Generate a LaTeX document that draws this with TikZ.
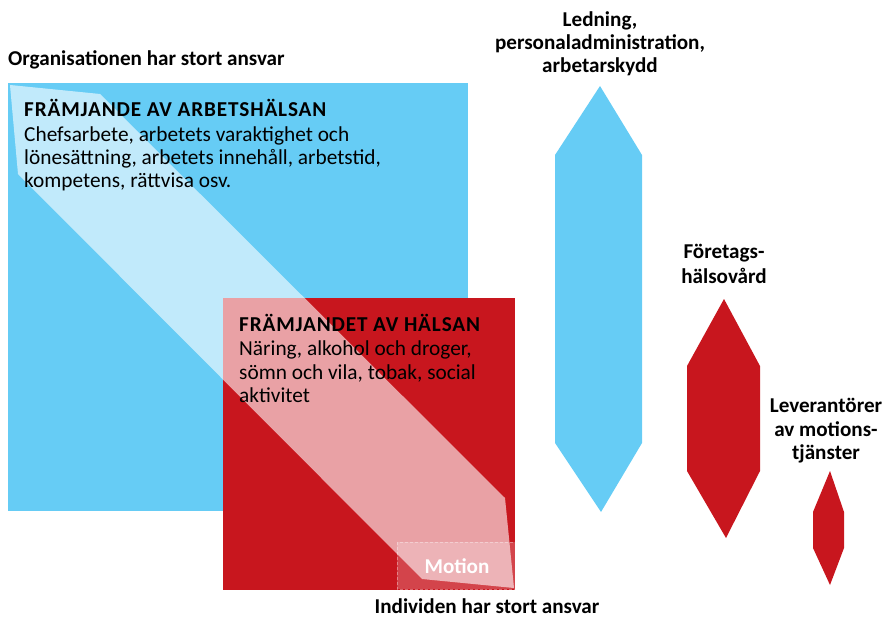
\documentclass[tikz,border=0pt]{standalone}
\usepackage{fontspec}
\setmainfont{Carlito}
\newfontfamily\spacedfont[LetterSpace=4]{Carlito}
\definecolor{skyblue}{HTML}{66CCF5}
\definecolor{cred}{HTML}{C8161E}
\begin{document}
\begin{tikzpicture}[x=1bp,y=-1bp,
  lbl/.style={font=\fontsize{21.2}{24}\selectfont\bfseries, inner sep=0, anchor=base},
  lblw/.style={lbl, anchor=base west},
  head/.style={font=\fontsize{21.3}{24}\spacedfont\bfseries, inner sep=0, anchor=base west},
  body/.style={font=\fontsize{21.4}{24}\selectfont, inner sep=0, anchor=base west}]
\useasboundingbox (0,0) rectangle (884,618);
% boxes
\fill[skyblue] (8,83) rectangle (468,511);
\fill[cred] (223,298) rectangle (515,590);
% translucent band
\fill[white, opacity=0.6] (10,85) -- (100,94) -- (505,498) -- (514,588) -- (422,579) -- (18,174) -- cycle;
% Motion box
\path[fill=white, fill opacity=0.2, draw=white, draw opacity=0.35, densely dashed] (397,542) rectangle (515,589);
\node[lbl, text=white] (motion) at (457,573) {Motion};
% hexagons
\fill[skyblue] (600,86) -- (642,155) -- (642,443) -- (601,512) -- (555,443) -- (555,155) -- cycle;
\fill[cred] (724,299) -- (760,366) -- (760,471) -- (726,538) -- (687,471) -- (687,366) -- cycle;
\fill[cred] (830,471) -- (844,512) -- (844,548) -- (830,585) -- (813,548) -- (813,512) -- cycle;
% texts
\node[lblw] (org) at (8,66) {Organisationen har stort ansvar};
\node[head] (h1) at (24,117) {FRÄMJANDE AV ARBETSHÄLSAN};
\node[body] (b11) at (24,142) {Chefsarbete, arbetets varaktighet och};
\node[body] (b12) at (24,165) {lönesättning, arbetets innehåll, arbetstid,};
\node[body] (b13) at (24,188) {kompetens, rättvisa osv.};
\node[head] (h2) at (239,331) {FRÄMJANDET AV HÄLSAN};
\node[body] (b21) at (239,355) {Näring, alkohol och droger,};
\node[body] (b22) at (239,379) {sömn och vila, tobak, social};
\node[body] (b23) at (239,402) {aktivitet};
\node[lbl] (ind) at (487,613) {Individen har stort ansvar};
\node[lbl] (l1) at (600,27) {Ledning,};
\node[lbl] (l2) at (600,50) {personaladministration,};
\node[lbl] (l3) at (600,73) {arbetarskydd};
\node[lbl] (f1) at (724,259) {Företags-};
\node[lbl] (f2) at (724,283) {hälsovård};
\node[lbl] (v1) at (826,412) {Leverantörer};
\node[lbl] (v2) at (826,436) {av motions-};
\node[lbl] (v3) at (826,459) {tjänster};
\end{tikzpicture}
\end{document}
